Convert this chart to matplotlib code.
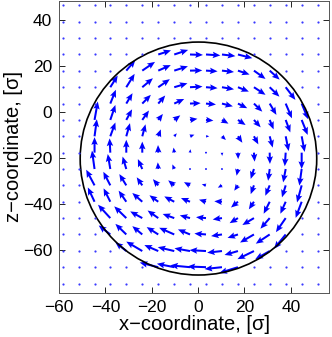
import numpy as np
import matplotlib
matplotlib.use("Agg")
import matplotlib.pyplot as plt
from matplotlib.patches import Ellipse

plt.rcParams['font.family'] = ['Liberation Sans', 'DejaVu Sans']

# grid of sample points (sigma units)
x_grid = [-58.5, -51.6, -44.7, -37.9, -31.0, -24.1, -17.2, -10.3, -3.5,
          3.4, 10.3, 17.2, 24.1, 30.9, 37.8, 44.7, 51.6]
z_grid = [46.4, 39.3, 32.2, 25.0, 18.0, 10.8, 3.7, -3.4, -10.5, -17.6,
          -24.7, -31.8, -38.9, -46.0, -53.1, -60.3, -67.3, -74.5]

# x-velocity, rows from top (z=46.4) to bottom (z=-74.5)
u_vals = [
    [0]*17,
    [0]*17,
    [0]*17,
    [0, 0, 0, 0, 0, 0, 5.5, 6.0, 5.6, 6.2, 5.8, 6.2, 0, 0, 0, 0, 0],
    [0, 0, 0, 0, 3.9, 5.5, 5.4, 5.9, 5.3, 5.0, 5.2, 5.0, 5.0, 4.3, 0, 0, 0],
    [0, 0, 0, 3.2, 3.6, 4.6, 5.0, 5.7, 5.4, 5.0, 5.2, 4.7, 5.0, 4.2, 4.2, 0, 0],
    [0, 0, 0, 2.4, 2.7, 3.7, 3.0, 4.3, 4.6, 4.3, 4.7, 4.0, 3.6, 2.9, 2.7, 2.8, 0],
    [0, 0, 1.4, 2.2, 2.5, 2.9, 2.0, 2.6, 3.2, 3.2, 2.8, 3.3, 2.9, 1.7, 2.0, 2.6, 0],
    [0, 0, 1.0, 2.2, 1.6, 1.4, 1.1, 1.1, 1.9, 1.4, 1.7, 1.9, 1.9, 1.3, 1.3, 1.3, 0],
    [0, 0, 0.0, -0.3, 0.0, 0.0, -0.1, -0.3, 0.2, 0.6, 0.1, 0.1, 0.3, 0.1, -0.4, 0.0, 0],
    [0, 0, -1.1, -1.1, -1.6, -1.9, -0.2, -0.8, 0.2, -0.5, -0.4, -0.6, -1.4, -0.7, -1.1, -1.0, 0],
    [0, 0, -3.6, -3.0, -3.0, -2.4, -2.3, -2.6, -2.6, -1.8, -1.8, -1.6, -1.4, -1.9, -1.6, -2.0, 0],
    [0, 0, -2.9, -2.9, -3.3, -4.3, -3.8, -4.3, -3.9, -3.0, -3.3, -3.0, -2.2, -2.6, -2.3, -2.6, 0],
    [0, 0, 0, -5.3, -5.2, -5.2, -4.6, -5.0, -4.4, -4.3, -4.0, -3.6, -5.0, -4.0, -4.2, 0, 0],
    [0, 0, 0, -5.0, -4.7, -4.3, -5.0, -6.5, -5.2, -5.0, -4.7, -4.5, -6.0, -6.0, -5.0, 0, 0],
    [0, 0, 0, 0, -4.7, -6.9, -6.0, -7.1, -6.7, -7.1, -6.4, -5.8, -7.1, -6.2, 0, 0, 0],
    [0, 0, 0, 0, 0, 0, -8.0, -7.5, -8.5, -8.0, -7.5, -8.0, 0, 0, 0, 0, 0],
    [0]*17,
]

# z-velocity, same layout
v_vals = [
    [0]*17,
    [0]*17,
    [0]*17,
    [0, 0, 0, 0, 0, 0, 1.8, 2.0, -0.2, -0.4, -0.7, -1.6, 0, 0, 0, 0, 0],
    [0, 0, 0, 0, 4.6, 3.8, 2.4, 1.9, 0.1, -0.3, -0.6, -1.7, -3.6, -3.9, 0, 0, 0],
    [0, 0, 0, 5.1, 5.8, 3.9, 3.5, 1.7, 0.3, -0.4, -0.9, -1.9, -3.3, -4.1, -5.5, 0, 0],
    [0, 0, 0, 6.0, 4.5, 3.8, 3.5, 2.0, 0.2, -0.4, -1.2, -2.0, -3.5, -4.9, -6.4, -6.8, 0],
    [0, 0, 8.0, 6.5, 4.6, 4.1, 2.6, 2.0, 0.5, -0.3, -1.6, -2.2, -3.2, -4.1, -5.4, -6.5, 0],
    [0, 0, 7.4, 6.0, 5.7, 5.2, 3.0, 1.3, 0.7, 0.0, -1.6, -2.8, -3.5, -4.9, -6.4, -6.8, 0],
    [0, 0, 6.7, 6.2, 5.6, 4.8, 3.3, 2.2, 1.5, 0.1, -1.4, -2.8, -3.9, -4.9, -5.9, -7.1, 0],
    [0, 0, 8.0, 6.5, 5.4, 4.3, 2.9, 2.0, 0.5, 0.0, -0.5, -2.9, -4.3, -5.1, -5.8, -7.2, 0],
    [0, 0, 6.8, 5.9, 4.9, 3.5, 2.7, 2.2, 1.4, 0.5, -1.0, -2.3, -3.8, -4.5, -5.2, -7.4, 0],
    [0, 0, 6.2, 5.8, 4.8, 3.8, 2.8, 2.3, 1.6, 0.9, 0.2, -2.5, -3.3, -5.2, -5.2, -7.0, 0],
    [0, 0, 0, 5.8, 5.1, 2.9, 3.3, 1.8, 1.2, 0.4, -0.6, -2.2, -3.0, -4.6, -6.1, 0, 0],
    [0, 0, 0, 3.9, 4.6, 3.6, 3.2, 2.9, 2.2, 0.4, -0.7, -1.5, -3.5, -4.0, -6.2, 0, 0],
    [0, 0, 0, 0, 3.8, 4.1, 2.6, 1.7, 1.2, 0.4, -0.7, -1.7, -3.5, -3.5, 0, 0, 0],
    [0, 0, 0, 0, 0, 0, 2.0, 1.5, 0.8, 0.3, -0.8, -2.5, 0, 0, 0, 0, 0],
    [0]*17,
]

# container wall
wall_center = (0.15, -20.15)
wall_width = 102.1
wall_height = 101.1

X, Z = np.meshgrid(x_grid, z_grid)
U = np.array(u_vals)
V = np.array(v_vals)
moving = (U != 0) | (V != 0)

fig = plt.figure(figsize=(3.32, 3.37), dpi=100)
ax = fig.add_axes([0.178, 0.1306, 0.813, 0.867])

ax.quiver(X[moving], Z[moving], U[moving], V[moving], angles='xy',
          scale_units='xy', scale=1, color='#0000ff', width=0.0075,
          headwidth=3.2, headlength=3.8, headaxislength=3.3)
ax.plot(X[~moving], Z[~moving], 'o', color='#3a3aff', markersize=1.6, mew=0)

ax.add_patch(Ellipse(wall_center, wall_width, wall_height, fill=False,
                     edgecolor='black', lw=1.2))

ax.set_xlim(-60, 56.5)
ax.set_ylim(-78.5, 48.3)
ax.set_xticks([-60, -40, -20, 0, 20, 40])
ax.set_yticks([-60, -40, -20, 0, 20, 40])
ax.tick_params(direction='in', top=True, right=True, length=4, width=0.6,
               labelsize=12.5, pad=5)
for s in ax.spines.values():
    s.set_linewidth(0.7)
    s.set_color('#555555')
ax.set_xlabel('x\u2212coordinate, [\u03c3]', fontsize=14.5, labelpad=0)
ax.set_ylabel('z\u2212coordinate, [\u03c3]', fontsize=14.5, labelpad=0)

fig.savefig('out.png', dpi=100)
